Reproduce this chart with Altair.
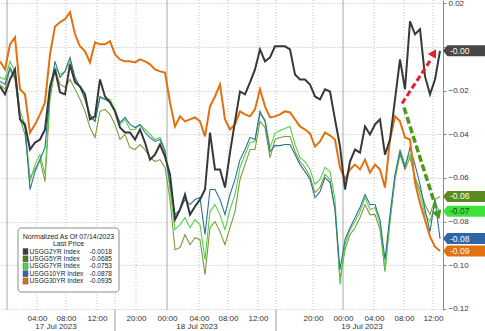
import altair as alt
import pandas as pd

# ---------------- data ----------------
# position along the (gap-compressed) trading-time axis
pos = list(range(0, 445, 5))

usgg2 = [-0.0181, -0.0217, -0.0149, -0.0103, -0.0332, -0.0355, -0.0470, -0.0438, -0.0424, -0.0378,
         -0.0181, -0.0103, -0.0208, -0.0217, -0.0080, -0.0162, -0.0181, -0.0217, -0.0332, -0.0318,
         -0.0149, -0.0227, -0.0254, -0.0295, -0.0369, -0.0392, -0.0392, -0.0424, -0.0378, -0.0438,
         -0.0516, -0.0493, -0.0447, -0.0502, -0.0584, -0.0791, -0.0745, -0.0676, -0.0768, -0.0731,
         -0.0699, -0.0653, -0.0392, -0.0561, -0.0561, -0.0644, -0.0484, -0.0341, -0.0204, -0.0217,
         -0.0162, -0.0103, -0.0011, -0.0066, -0.0048, 0.0003, 0.0003, 0.0003, -0.0011, -0.0126,
         -0.0149, -0.0149, -0.0172, -0.0227, -0.0240, -0.0194, -0.0204, -0.0332, -0.0456, -0.0653,
         -0.0525, -0.0470, -0.0484, -0.0364, -0.0401, -0.0355, -0.0332, -0.0493, -0.0424, -0.0240,
         -0.0057, -0.0194, 0.0117, 0.0058, 0.0081, -0.0135, -0.0217, -0.0149, -0.0018]

usgg5 = [-0.0172, -0.0194, -0.0103, -0.0149, -0.0332, -0.0401, -0.0598, -0.0561, -0.0516, -0.0617,
         -0.0240, -0.0103, -0.0172, -0.0185, -0.0149, -0.0194, -0.0240, -0.0295, -0.0369, -0.0415,
         -0.0295, -0.0286, -0.0309, -0.0355, -0.0424, -0.0401, -0.0461, -0.0470, -0.0447, -0.0470,
         -0.0507, -0.0525, -0.0516, -0.0552, -0.0699, -0.0929, -0.0919, -0.0860, -0.0906, -0.0874,
         -0.0883, -0.1043, -0.0828, -0.0800, -0.0846, -0.0906, -0.0828, -0.0754, -0.0607, -0.0539,
         -0.0470, -0.0470, -0.0341, -0.0369, -0.0507, -0.0424, -0.0415, -0.0410, -0.0410, -0.0479,
         -0.0525, -0.0552, -0.0594, -0.0667, -0.0644, -0.0584, -0.0607, -0.0745, -0.1066, -0.0929,
         -0.0860, -0.0828, -0.0782, -0.0722, -0.0768, -0.0768, -0.0837, -0.1030, -0.0800, -0.0607,
         -0.0493, -0.0561, -0.0507, -0.0598, -0.0653, -0.0722, -0.0768, -0.0699, -0.0685]

usgg7 = [-0.0139, -0.0149, -0.0066, -0.0112, -0.0295, -0.0355, -0.0617, -0.0539, -0.0493, -0.0584,
         -0.0217, -0.0094, -0.0126, -0.0112, -0.0066, -0.0149, -0.0181, -0.0240, -0.0323, -0.0341,
         -0.0231, -0.0240, -0.0240, -0.0286, -0.0355, -0.0332, -0.0378, -0.0378, -0.0355, -0.0378,
         -0.0401, -0.0424, -0.0415, -0.0470, -0.0653, -0.0837, -0.0814, -0.0782, -0.0828, -0.0791,
         -0.0814, -0.0974, -0.0754, -0.0722, -0.0768, -0.0837, -0.0745, -0.0676, -0.0552, -0.0493,
         -0.0438, -0.0433, -0.0309, -0.0332, -0.0461, -0.0396, -0.0383, -0.0374, -0.0364, -0.0447,
         -0.0507, -0.0525, -0.0561, -0.0630, -0.0607, -0.0552, -0.0571, -0.0699, -0.1089, -0.0906,
         -0.0837, -0.0800, -0.0754, -0.0690, -0.0745, -0.0736, -0.0814, -0.1020, -0.0791, -0.0598,
         -0.0470, -0.0539, -0.0493, -0.0607, -0.0676, -0.0768, -0.0800, -0.0722, -0.0753]

usgg10 = [-0.0158, -0.0172, -0.0094, -0.0139, -0.0323, -0.0369, -0.0653, -0.0571, -0.0516, -0.0461,
          -0.0204, -0.0066, -0.0139, -0.0112, -0.0048, -0.0139, -0.0185, -0.0240, -0.0309, -0.0341,
          -0.0227, -0.0240, -0.0254, -0.0295, -0.0346, -0.0323, -0.0355, -0.0369, -0.0355, -0.0392,
          -0.0415, -0.0433, -0.0424, -0.0479, -0.0630, -0.0768, -0.0745, -0.0699, -0.0722, -0.0699,
          -0.0690, -0.0860, -0.0653, -0.0653, -0.0699, -0.0768, -0.0676, -0.0607, -0.0516, -0.0470,
          -0.0415, -0.0424, -0.0295, -0.0341, -0.0479, -0.0452, -0.0452, -0.0447, -0.0447, -0.0493,
          -0.0539, -0.0571, -0.0607, -0.0690, -0.0663, -0.0598, -0.0621, -0.0745, -0.1020, -0.0883,
          -0.0828, -0.0782, -0.0736, -0.0676, -0.0722, -0.0722, -0.0791, -0.0974, -0.0768, -0.0584,
          -0.0479, -0.0552, -0.0461, -0.0539, -0.0630, -0.0745, -0.0846, -0.0699, -0.0878]

usgg30 = [-0.0066, -0.0103, 0.0012, 0.0044, -0.0194, -0.0217, -0.0392, -0.0355, -0.0309, -0.0254,
          -0.0034, 0.0094, 0.0113, 0.0127, 0.0159, 0.0058, 0.0003, -0.0020, -0.0071, 0.0021,
          0.0012, 0.0012, 0.0026, -0.0034, -0.0057, -0.0066, -0.0066, -0.0071, -0.0057, -0.0066,
          -0.0080, -0.0103, -0.0112, -0.0117, -0.0254, -0.0364, -0.0318, -0.0341, -0.0332, -0.0323,
          -0.0341, -0.0410, -0.0272, -0.0227, -0.0172, -0.0332, -0.0378, -0.0355, -0.0295, -0.0309,
          -0.0318, -0.0286, -0.0194, -0.0272, -0.0323, -0.0318, -0.0309, -0.0295, -0.0300, -0.0332,
          -0.0364, -0.0378, -0.0396, -0.0456, -0.0433, -0.0392, -0.0406, -0.0424, -0.0552, -0.0607,
          -0.0561, -0.0539, -0.0561, -0.0516, -0.0575, -0.0539, -0.0561, -0.0644, -0.0424, -0.0318,
          -0.0341, -0.0415, -0.0424, -0.0621, -0.0717, -0.0791, -0.0869, -0.0915, -0.0935]

series_names = ["USGG5YR", "USGG7YR", "USGG10YR", "USGG30YR", "USGG2YR"]   # drawing order
series_vals = [usgg5, usgg7, usgg10, usgg30, usgg2]
line_colors = ["#7e9a3c", "#4fd34a", "#2f7193", "#e2700f", "#383838"]
line_widths = [1.1, 1.1, 1.1, 2.0, 2.0]

# legend
legend_title = ["Normalized As Of 07/14/2023", "Last Price"]
legend_names = ["USGG2YR Index", "USGG5YR Index", "USGG7YR Index", "USGG10YR Index", "USGG30YR Index"]
legend_vals = ["-0.0018", "-0.0685", "-0.0753", "-0.0878", "-0.0935"]
legend_colors = ["#3c3c3c", "#4f7d17", "#3ee23a", "#2f66a8", "#e2700f"]

# right-side last-value tags
tag_vals = [-0.0018, -0.0685, -0.0753, -0.0878, -0.0935]
tag_text = ["-0.00", "-0.06", "-0.07", "-0.08", "-0.09"]
tag_fill = ["#474747", "#5b8a1f", "#3ee23a", "#2f66a8", "#e2700f"]
tag_textcol = ["#ffffff", "#ffffff", "#174d17", "#ffffff", "#ffffff"]

# x axis ticks
tick_pos = [37, 66, 97, 136, 167, 199, 228, 258, 313, 343, 374, 404, 433]
tick_lab = ["04:00", "08:00", "12:00", "20:00", "00:00", "04:00", "08:00", "12:00",
            "20:00", "00:00", "04:00", "08:00", "12:00"]
grid_pos = [37, 66, 97, 115, 136, 199, 228, 258, 276, 313, 374, 404, 433]
midnight_pos = [7, 167, 343]
sep_pos = [115, 276]
date_pos = [56, 197, 362]
date_lab = ["17 Jul 2023", "18 Jul 2023", "19 Jul 2023"]

# annotation arrows (position, value)
red_arrow_t = [402, 431]
red_arrow_v = [-0.0259, -0.0057]
red_head = (434, -0.0027)
green_arrow_t = [404, 436]
green_arrow_v = [-0.0277, -0.0736]
green_head = (438, -0.0770)

# ---------------- chart ----------------
W, H = 443, 310
FONT = "Liberation Sans"
LFONT = "Liberation Sans Narrow"

xs = alt.Scale(domain=[0, W], nice=False, zero=False)
ys = alt.Scale(domain=[-0.1205, 0.0215], nice=False, zero=False)

pos_js = "[" + ",".join(str(p) for p in tick_pos) + "]"
lab_js = "[" + ",".join("'" + l + "'" for l in tick_lab) + "]"
xaxis = alt.Axis(values=tick_pos, labelExpr=f"{lab_js}[indexof({pos_js}, datum.value)]",
                 grid=False, domain=False, ticks=False, labelFontSize=8, labelColor="#333333",
                 labelPadding=4, labelFont=FONT, title=None)
yaxis = alt.Axis(orient="right", values=[0.02, 0.0, -0.02, -0.04, -0.06, -0.08, -0.10, -0.12],
                 labelExpr="datum.value == 0 ? '' : format(datum.value, '.2f')",
                 grid=True, gridColor="#bdbdbd", gridDash=[1, 2], gridWidth=1,
                 domain=True, domainColor="#8a8a8a", tickColor="#8a8a8a", tickSize=3,
                 labelFontSize=8, labelColor="#333333", labelPadding=2, labelFont=FONT, title=None)

X = alt.X("t:Q", scale=xs, axis=xaxis)
Y = alt.Y("v:Q", scale=ys, axis=yaxis)

layers = []

# vertical dotted grid
vgrid = alt.Chart(pd.DataFrame({"t": grid_pos})).mark_rule(
    color="#bdbdbd", strokeDash=[1, 2], strokeWidth=1).encode(
    x=X, y=alt.value(0), y2=alt.value(H))
layers.append(vgrid)

mid = alt.Chart(pd.DataFrame({"t": midnight_pos})).mark_rule(
    color="#a8a8a8", strokeWidth=1).encode(x=X, y=alt.value(0), y2=alt.value(H))
layers.append(mid)

sep = alt.Chart(pd.DataFrame({"t": sep_pos})).mark_rule(
    color="#9a9a9a", strokeWidth=1).encode(x=X, y=alt.value(H), y2=alt.value(H + 21))
layers.append(sep)

# series lines
for name, vals, col, w in zip(series_names, series_vals, line_colors, line_widths):
    df = pd.DataFrame({"t": pos, "v": vals})
    layers.append(alt.Chart(df).mark_line(color=col, strokeWidth=w, strokeJoin="miter").encode(x=X, y=Y))

# arrows
red_df = pd.DataFrame({"t": red_arrow_t, "v": red_arrow_v})
layers.append(alt.Chart(red_df).mark_line(color="#e5212b", strokeWidth=3, strokeDash=[6, 3]).encode(x=X, y=Y))
layers.append(alt.Chart(pd.DataFrame({"t": [red_head[0]], "v": [red_head[1]]})).mark_point(
    shape="triangle-up", filled=True, size=90, angle=31, color="#e5212b", opacity=1).encode(x=X, y=Y))
green_df = pd.DataFrame({"t": green_arrow_t, "v": green_arrow_v})
layers.append(alt.Chart(green_df).mark_line(color="#4c9a1a", strokeWidth=3.5, strokeDash=[7, 3]).encode(x=X, y=Y))
layers.append(alt.Chart(pd.DataFrame({"t": [green_head[0]], "v": [green_head[1]]})).mark_point(
    shape="triangle-up", filled=True, size=100, angle=162, color="#4c9a1a", opacity=1).encode(x=X, y=Y))

# date labels under the time labels
dates = alt.Chart(pd.DataFrame({"t": date_pos, "lab": date_lab})).mark_text(
    fontSize=8, color="#333333", font=FONT, baseline="middle").encode(
    x=X, y=alt.value(H + 17), text="lab:N")
layers.append(dates)

# right-side tags
tag_df = pd.DataFrame({"v": tag_vals, "lab": tag_text, "fill": tag_fill, "tc": tag_textcol})
tag_shape = "M -1 0 L -0.8 -0.25 L 1 -0.25 L 1 0.25 L -0.8 0.25 Z"
tags = alt.Chart(tag_df).mark_point(shape=tag_shape, filled=True, size=44 * 44, opacity=1, strokeWidth=0).encode(
    x=alt.value(W + 22), y=Y, fill=alt.Fill("fill:N", scale=None, legend=None))
tag_txt = alt.Chart(tag_df).mark_text(align="left", baseline="middle", fontSize=8.5, font=FONT).encode(
    x=alt.value(W + 7), y=Y, text="lab:N", color=alt.Color("tc:N", scale=None, legend=None))
layers += [tags, tag_txt]

# legend box
one = pd.DataFrame({"a": [0]})
layers.append(alt.Chart(one).mark_rect(fill="white", stroke="#8c8c8c", strokeWidth=1, cornerRadius=3).encode(
    x=alt.value(18), x2=alt.value(119), y=alt.value(228), y2=alt.value(292)))
layers.append(alt.Chart(one).mark_text(text=legend_title[0], fontSize=7, font=FONT, color="#222222",
                                       align="center", baseline="middle").encode(x=alt.value(68.5), y=alt.value(236.5)))
layers.append(alt.Chart(one).mark_text(text=legend_title[1], fontSize=7, font=FONT, color="#222222",
                                       align="center", baseline="middle").encode(x=alt.value(68.5), y=alt.value(244)))
for i, (nm, vl, cl) in enumerate(zip(legend_names, legend_vals, legend_colors)):
    yy = 251.5 + 7.4 * i
    layers.append(alt.Chart(one).mark_rect(fill=cl, stroke="#555555", strokeWidth=0.5).encode(
        x=alt.value(23), x2=alt.value(28), y=alt.value(yy - 3), y2=alt.value(yy + 3)))
    layers.append(alt.Chart(one).mark_text(text=nm, fontSize=6.6, font=FONT, color="#222222",
                                           align="left", baseline="middle").encode(x=alt.value(29.5), y=alt.value(yy)))
    layers.append(alt.Chart(one).mark_text(text=vl, fontSize=6.6, font=FONT, color="#222222",
                                           align="right", baseline="middle").encode(x=alt.value(112), y=alt.value(yy)))

chart = alt.layer(*layers).properties(
    width=W, height=H,
    autosize=alt.AutoSizeParams(type="none"),
    padding={"left": 0, "top": 0, "right": 42, "bottom": 21},
    background="white",
).configure_view(stroke=None)

chart.save("out.html", embed_options={"renderer": "svg", "actions": False})
